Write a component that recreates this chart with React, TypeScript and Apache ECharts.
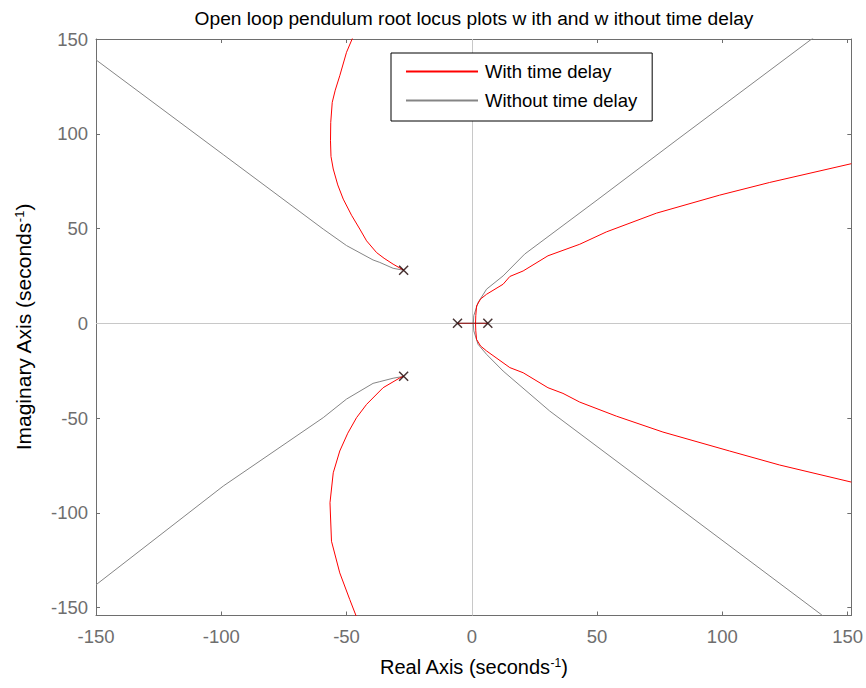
import React, { useEffect, useRef } from "react";
import * as echarts from "echarts";

const TITLE = "Open loop pendulum root locus plots w ith and w ithout time delay";
const X_LABEL = "Real Axis (seconds";
const Y_LABEL = "Imaginary Axis (seconds";
const SERIES_NAMES = ["With time delay", "Without time delay"];
const TICKS = [-150, -100, -50, 0, 50, 100, 150];

// open-loop poles
const poles = [[-27.2, 28], [-27.2, -28], [-5.7, 0], [6.4, 0]];

// with time delay (red)
const redUpperLeft = [[-27.2, 28], [-31.4, 31.2], [-35, 34.3], [-38, 37.3], [-42, 43.5], [-44.7, 49.7], [-48, 57], [-51.3, 65.5], [-53.5, 73], [-55.3, 81.4], [-56.2, 88], [-56.4, 96.3], [-56.3, 106], [-55.7, 116.6], [-54.5, 123], [-52.7, 130.6], [-50, 143], [-47.6, 150.5], [-46.8, 153]];
const redLowerLeft = [[-27.2, -28], [-28.7, -28.8], [-35.4, -34], [-42, -42.8], [-46, -49.8], [-49.5, -58], [-52.7, -67.4], [-55.3, -78.9], [-56.6, -94.7], [-56, -115], [-52.7, -131.7], [-48.7, -145.8], [-46, -155]];
const redUpperRight = [[1.5, 0], [1.6, 4], [1.9, 9.1], [3.5, 12.8], [5.9, 15.3], [12.5, 20.6], [15.2, 24.7], [20.5, 27.6], [30.4, 35.6], [43.1, 41.7], [53.7, 48.2], [73.7, 58.1], [98.9, 67.6], [118.9, 74.3], [151.5, 84.2]];
const redLowerRight = [[1.5, 0], [1.6, -4], [1.9, -8.5], [3.5, -12], [5.9, -14.6], [15.2, -23.4], [20.5, -26.1], [30.4, -34], [36.4, -37], [43.1, -41.6], [57.7, -49], [76.3, -57.4], [102.9, -67.4], [122.9, -74.8], [151.5, -83.8]];
const redReal = [[-5.7, 0], [6.4, 0]];

// without time delay (gray)
const grayUpperLeft = [[-27.2, 28], [-31.4, 29], [-36.7, 32.1], [-39.4, 33.4], [-50, 41], [-59.3, 49.7], [-99.2, 89], [-150, 139]];
const grayLowerLeft = [[-27.2, -28], [-31.4, -29], [-36.7, -30.8], [-39.4, -31.7], [-50, -40], [-59.3, -49.8], [-99.2, -85.9], [-150, -138]];
const grayUpperRight = [[0.6, 0], [0.8, 4], [2.5, 10.9], [5.9, 18], [12.5, 25], [21.1, 36.5], [50, 65], [82.3, 97.2], [136.2, 150.5], [139.5, 154]];
const grayLowerRight = [[0.6, 0], [0.8, -4], [2.5, -11.1], [5.9, -16.4], [12.5, -25.2], [31.1, -46.3], [139.5, -153.7], [140, -154.2]];
const grayReal = [[-5.7, 0], [6.4, 0]];

const X_MIN = -150, X_MAX = 151.5, Y_MIN = -154.2, Y_MAX = 150;

const FONT = "'Liberation Sans', Arial, sans-serif";
const RED = "#ff0000";
const GRAY = "#858585";
const AXIS_COLOR = "#6e6e6e";

export default function App() {
  const ref = useRef<HTMLDivElement>(null);
  useEffect(() => {
    if (!ref.current) return;
    const chart = echarts.init(ref.current, null, { renderer: "svg" });
    const lineSeries = (name: string, data: number[][], color: string, z: number) => ({
      name,
      type: "line",
      data,
      symbol: "none",
      showSymbol: false,
      smooth: false,
      clip: true,
      z,
      lineStyle: { color, width: 1 },
      itemStyle: { color },
      emphasis: { disabled: true },
    });
    const tickCommon = {
      show: true,
      inside: true,
      length: 4,
      customValues: TICKS,
      lineStyle: { color: AXIS_COLOR, width: 1 },
    };
    const sub = (fs: number) => ({ fontSize: fs, verticalAlign: "top", lineHeight: 12, fontFamily: FONT, color: "#000" });
    chart.setOption({
      animation: false,
      backgroundColor: "#ffffff",
      textStyle: { fontFamily: FONT },
      title: {
        text: TITLE,
        left: 469,
        textAlign: "center",
        top: 4,
        textStyle: { fontSize: 19.2, fontWeight: "normal", color: "#000", fontFamily: FONT },
      },
      legend: {
        data: SERIES_NAMES,
        orient: "vertical",
        left: 391,
        top: 53,
        padding: [9, 15, 11, 14],
        itemWidth: 72,
        itemHeight: 14,
        itemGap: 10,
        itemStyle: { opacity: 0 },
        backgroundColor: "#fff",
        borderColor: "#000",
        borderWidth: 1,
        borderRadius: 0,
        textStyle: { fontSize: 18.5, color: "#000", fontFamily: FONT, lineHeight: 18, padding: [0, 0, 0, 2] },
      },
      grid: { left: 96, right: 14.3, top: 39, bottom: 72.5 },
      xAxis: [
        {
          type: "value",
          min: X_MIN,
          max: X_MAX,
          position: "bottom",
          axisLine: { show: true, onZero: false, lineStyle: { color: AXIS_COLOR, width: 1 } },
          axisTick: tickCommon,
          axisLabel: { show: true, customValues: TICKS, margin: 11, fontSize: 18.5, color: AXIS_COLOR, fontFamily: FONT },
          splitLine: { show: false },
          name: `${X_LABEL}{s|-1})`,
          nameLocation: "middle",
          nameGap: 41,
          nameTextStyle: { fontSize: 20, color: "#000", fontFamily: FONT, rich: { s: sub(12) } },
        },
        {
          type: "value",
          min: X_MIN,
          max: X_MAX,
          position: "top",
          axisLine: { show: true, onZero: false, lineStyle: { color: AXIS_COLOR, width: 1 } },
          axisTick: tickCommon,
          axisLabel: { show: false },
          splitLine: { show: false },
        },
      ],
      yAxis: [
        {
          type: "value",
          min: Y_MIN,
          max: Y_MAX,
          position: "left",
          axisLine: { show: true, onZero: false, lineStyle: { color: AXIS_COLOR, width: 1 } },
          axisTick: tickCommon,
          axisLabel: { show: true, customValues: TICKS, margin: 8, fontSize: 18.5, color: AXIS_COLOR, fontFamily: FONT },
          splitLine: { show: false },
          name: `${Y_LABEL}{s|-1})`,
          nameLocation: "middle",
          nameGap: 62,
          nameRotate: 90,
          nameTextStyle: { fontSize: 21, color: "#000", fontFamily: FONT, rich: { s: sub(13) } },
        },
        {
          type: "value",
          min: Y_MIN,
          max: Y_MAX,
          position: "right",
          axisLine: { show: true, onZero: false, lineStyle: { color: AXIS_COLOR, width: 1 } },
          axisTick: tickCommon,
          axisLabel: { show: false },
          splitLine: { show: false },
        },
      ],
      series: [
        {
          ...lineSeries(SERIES_NAMES[1], grayUpperLeft, GRAY, 2),
          markLine: {
            silent: true,
            symbol: ["none", "none"],
            label: { show: false },
            lineStyle: { color: "#c8c8c8", width: 1, type: "solid" },
            emphasis: { disabled: true },
            data: [{ xAxis: 0 }, { yAxis: 0 }],
            z: 1,
          },
        },
        lineSeries(SERIES_NAMES[1], grayLowerLeft, GRAY, 2),
        lineSeries(SERIES_NAMES[1], grayUpperRight, GRAY, 2),
        lineSeries(SERIES_NAMES[1], grayLowerRight, GRAY, 2),
        lineSeries(SERIES_NAMES[1], grayReal, GRAY, 2),
        lineSeries(SERIES_NAMES[0], redUpperLeft, RED, 3),
        lineSeries(SERIES_NAMES[0], redLowerLeft, RED, 3),
        lineSeries(SERIES_NAMES[0], redUpperRight, RED, 3),
        lineSeries(SERIES_NAMES[0], redLowerRight, RED, 3),
        lineSeries(SERIES_NAMES[0], redReal, "#9a1010", 3),
        {
          name: "poles",
          type: "scatter",
          data: poles,
          symbol: "path://M0 0L10 10M10 0L0 10",
          symbolSize: 9,
          z: 5,
          itemStyle: { color: "rgba(0,0,0,0)", borderColor: "#1a0000", borderWidth: 1.5 },
          emphasis: { disabled: true },
        },
      ],
    });
    return () => chart.dispose();
  }, []);
  return <div ref={ref} style={{ position: "fixed", left: 0, top: 0, width: 866, height: 688 }} />;
}
